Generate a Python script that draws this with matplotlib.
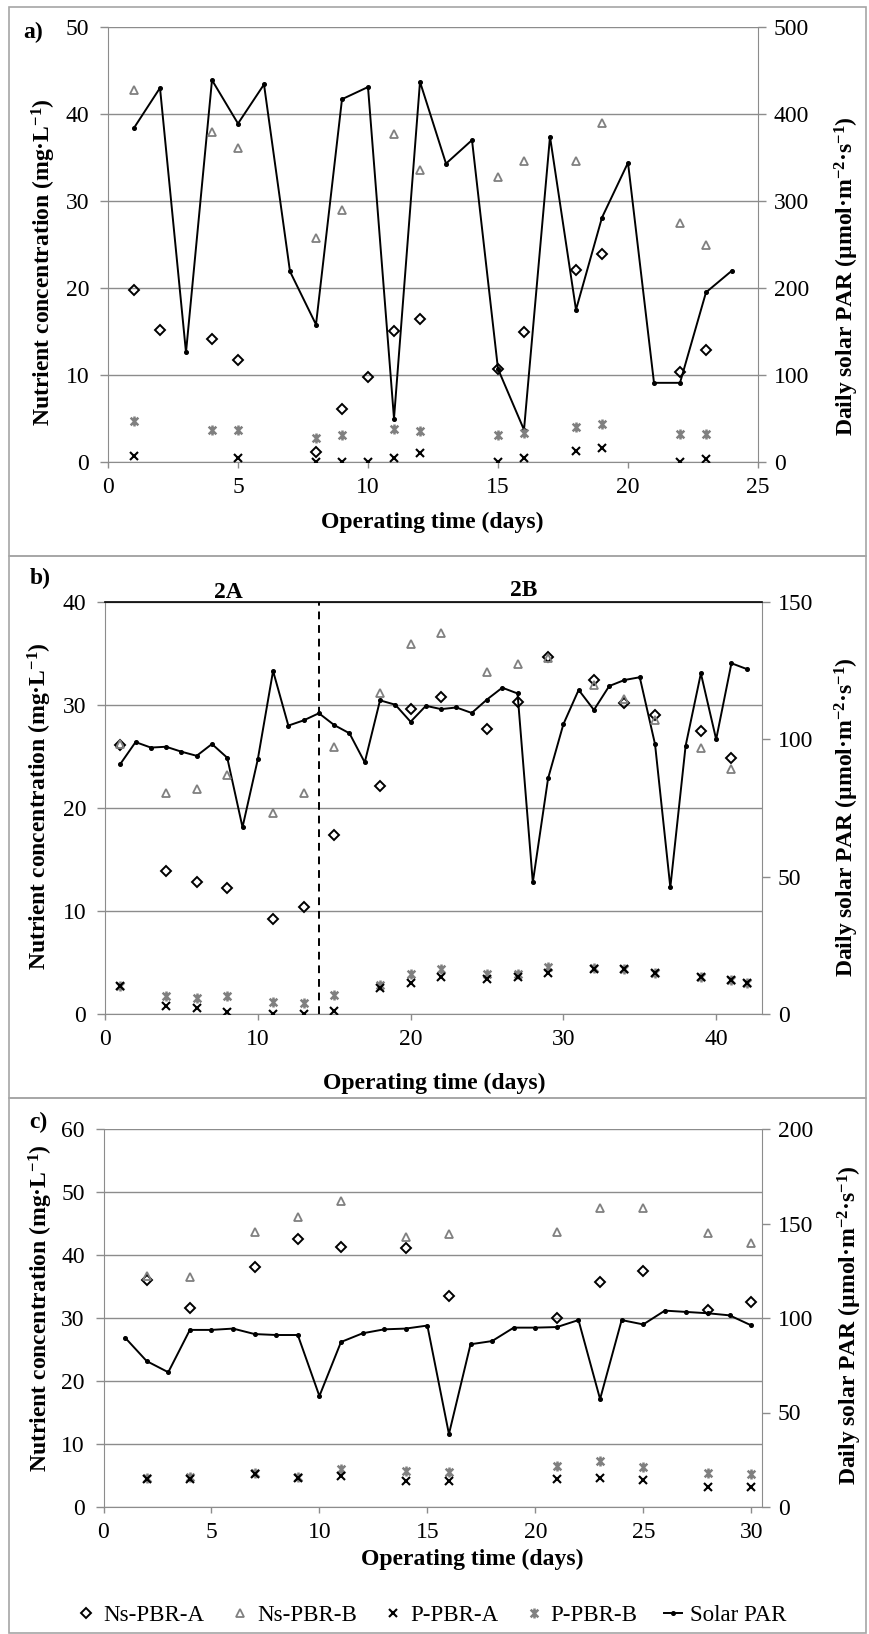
import matplotlib
matplotlib.use("Agg")
import matplotlib.pyplot as plt
from matplotlib.path import Path
from matplotlib.patches import Rectangle

plt.rcParams["font.family"] = ["Liberation Serif", "DejaVu Serif"]
plt.rcParams["mathtext.fontset"] = "custom"
plt.rcParams["mathtext.rm"] = "Liberation Serif"
plt.rcParams["mathtext.bf"] = "Liberation Serif:bold"
plt.rcParams["mathtext.it"] = "Liberation Serif:italic"

# ---------------- data ----------------
# a) first run
a_par_days = list(range(1, 25))
a_par = [384, 430, 126, 439, 389, 434, 219, 158, 417, 431, 50, 437,
         343, 370, 107, 37, 374, 175, 281, 344, 91, 91, 195, 220]
a_nsa_days = [1, 2, 4, 5, 8, 9, 10, 11, 12, 15, 16, 18, 19, 22, 23]
a_nsa = [19.8, 15.2, 14.1, 11.7, 1.2, 6.1, 9.8, 15.1, 16.4, 10.7, 14.9, 22.1, 23.9, 10.3, 12.9]
a_nsb_days = [1, 4, 5, 8, 9, 11, 12, 15, 16, 18, 19, 22, 23]
a_nsb = [42.8, 37.9, 36.1, 25.8, 29.0, 37.7, 33.6, 32.8, 34.6, 34.6, 39.0, 27.5, 24.9]
a_pa_days = [1, 5, 8, 9, 10, 11, 12, 15, 16, 18, 19, 22, 23]
a_pa = [0.7, 0.5, 0.0, 0.0, 0.0, 0.5, 1.0, 0.0, 0.5, 1.3, 1.65, 0.0, 0.3]
a_pb_days = [1, 4, 5, 8, 9, 11, 12, 15, 16, 18, 19, 22, 23]
a_pb = [4.7, 3.7, 3.7, 2.8, 3.1, 3.8, 3.6, 3.1, 3.3, 4.0, 4.4, 3.2, 3.2]

# b) second run (phases 2A / 2B)
b_par_days = list(range(1, 43))
b_par = [91, 99, 97, 97.3, 95.5, 94, 98.3, 93.3, 68, 92.7, 124.9, 105, 106.9, 109.5,
         105.2, 102.2, 91.6, 114.2, 112.6, 106.4, 112.2, 111, 111.6, 109.6, 114.5, 118.8,
         116.7, 47.9, 85.8, 105.5, 118, 110.7, 119.4, 121.6, 122.6, 98.2, 46.1, 97.6,
         124, 100, 127.7, 125.6]
b_ns_days = [1, 4, 6, 8, 11, 13, 15, 18, 20, 22, 25, 27, 29, 32, 34, 36, 39, 41]
b_nsa = [26.1, 13.9, 12.8, 12.2, 9.2, 10.4, 17.4, 22.1, 29.6, 30.8, 27.7, 30.3, 34.7,
         32.4, 30.2, 29.0, 27.5, 24.9]
b_nsb = [26.2, 21.5, 21.8, 23.2, 19.5, 21.5, 25.9, 31.2, 35.9, 37.0, 33.2, 34.0, 34.6,
         31.9, 30.6, 28.5, 25.8, 23.8]
b_p_days = [1, 4, 6, 8, 11, 13, 15, 18, 20, 22, 25, 27, 29, 32, 34, 36, 39, 41, 42]
b_pa = [2.7, 0.8, 0.55, 0.2, 0.0, 0.0, 0.3, 2.5, 3.0, 3.55, 3.35, 3.6, 4.0, 4.4, 4.4,
        4.0, 3.6, 3.3, 3.0]
b_pb = [2.7, 1.7, 1.6, 1.7, 1.2, 1.1, 1.8, 2.8, 3.85, 4.4, 3.85, 3.9, 4.6, 4.45, 4.4,
        3.95, 3.6, 3.3, 3.0]
b_phase_change = 14
b_phase_labels = ["2A", "2B"]

# c) third run
c_par_days = list(range(1, 31))
c_par = [89.6, 77.2, 71.3, 93.7, 93.7, 94.4, 91.5, 91.0, 91.0, 58.7, 87.3, 91.9, 94.0,
         94.4, 96.0, 38.6, 86.1, 87.8, 94.9, 94.9, 95.2, 98.9, 57.1, 98.9, 96.6, 103.9,
         103.2, 102.5, 101.4, 96.1]
c_days = [2, 4, 7, 9, 11, 14, 16, 21, 23, 25, 28, 30]
c_nsa = [36.1, 31.6, 38.1, 42.6, 41.2, 41.1, 33.5, 30.0, 35.7, 37.4, 31.2, 32.6]
c_nsb = [36.7, 36.5, 43.7, 46.0, 48.6, 42.9, 43.4, 43.7, 47.5, 47.5, 43.5, 41.9]
c_pa = [4.4, 4.5, 5.3, 4.6, 5.0, 4.2, 4.2, 4.5, 4.6, 4.3, 3.2, 3.1]
c_pb = [4.6, 4.7, 5.4, 4.7, 6.1, 5.7, 5.6, 6.5, 7.3, 6.3, 5.4, 5.2]

series_names = ["Ns-PBR-A", "Ns-PBR-B", "P-PBR-A", "P-PBR-B", "Solar PAR"]

# ---------------- figure ----------------
W, H, DPI = 869, 1634, 100
fig = plt.figure(figsize=(W / DPI, H / DPI), dpi=DPI)
fig.patch.set_facecolor("white")


def fx(px):
    return px / W


def fy(py):
    return 1 - py / H


GRID = "#8c8c8c"
GRAY = "#808080"
FS_TICK = 17
FS_LAB = 17

# asterisk-like marker: a cross with a vertical bar through it
star = Path([(-1, -1), (1, 1), (-1, 1), (1, -1), (0, -1.3), (0, 1.3)],
            [Path.MOVETO, Path.LINETO] * 3)

ylab_left = "Nutrient concentration (mg·L$^{\\mathbf{-1}}$)"
ylab_right = "Daily solar PAR (µmol·m$^{\\mathbf{-2}}$·s$^{\\mathbf{-1}}$)"
xlab = "Operating time (days)"


def panel(box, xlim, xticks, ylim, yticks, y2lim, y2ticks, par_days, par,
          nsa_days, nsa, nsb_days, nsb, pa_days, pa, pb_days, pb, top_black=False):
    l, t, r, b = box
    ax = fig.add_axes([fx(l), fy(b), (r - l) / W, (b - t) / H])
    ax2 = ax.twinx()
    ax.set_zorder(ax2.get_zorder() + 1)
    ax.patch.set_visible(False)

    ax.set_xlim(*xlim)
    ax.set_xticks(xticks)
    ax.set_ylim(*ylim)
    ax.set_yticks(yticks)
    ax2.set_ylim(*y2lim)
    ax2.set_yticks(y2ticks)

    ax.yaxis.grid(True, color=GRID, lw=1.0)
    ax.set_axisbelow(True)

    for a in (ax, ax2):
        for s in a.spines.values():
            s.set_visible(False)
    ax.spines["left"].set_visible(True)
    ax.spines["left"].set_color(GRID)
    ax.spines["bottom"].set_visible(True)
    ax.spines["bottom"].set_color(GRID)
    ax2.spines["right"].set_visible(True)
    ax2.spines["right"].set_color(GRID)
    if top_black:
        ax.spines["top"].set_visible(True)
        ax.spines["top"].set_color("black")
        ax.spines["top"].set_linewidth(1.2)

    ax.tick_params(axis="x", direction="out", length=4, width=1, color=GRID,
                   labelsize=FS_TICK, pad=7)
    ax.tick_params(axis="y", direction="out", length=5.5, width=1, color=GRID,
                   labelsize=FS_TICK, pad=8)
    ax2.tick_params(axis="y", direction="out", length=5.5, width=1, color=GRID,
                    labelsize=FS_TICK, pad=6)

    # solar PAR uses the right-hand scale but is drawn in the front axes
    h_par, = ax.plot(par_days, par, color="black", lw=1.4, marker="o", ms=2.6,
                     zorder=3, transform=ax2.transData)
    h_nsa, = ax.plot(nsa_days, nsa, ls="none", marker="D", ms=5.6, mfc="none",
                     mec="black", mew=1.4, zorder=4)
    h_nsb, = ax.plot(nsb_days, nsb, ls="none", marker="^", ms=6.4, mfc="none",
                     mec=GRAY, mew=1.3, zorder=4)
    h_pb, = ax.plot(pb_days, pb, ls="none", marker=star, ms=7.2, mfc="none",
                    mec=GRAY, mew=1.8, zorder=4)
    h_pa, = ax.plot(pa_days, pa, ls="none", marker="x", ms=5.8, mec="black",
                    mew=1.5, zorder=5)
    return ax, ax2, [h_nsa, h_nsb, h_pa, h_pb, h_par]


def labels(ylx, yly, yrx, yry, xlx, xly, tag, tagx, tagy):
    fig.text(fx(ylx), fy(yly), ylab_left, rotation=90, ha="center", va="center",
             fontsize=FS_LAB, fontweight="bold")
    fig.text(fx(yrx), fy(yry), ylab_right, rotation=90, ha="center", va="center",
             fontsize=FS_LAB, fontweight="bold")
    fig.text(fx(xlx), fy(xly), xlab, ha="center", va="center",
             fontsize=FS_LAB, fontweight="bold")
    fig.text(fx(tagx), fy(tagy), tag, ha="center", va="center",
             fontsize=FS_LAB, fontweight="bold")


# panel frames
for top, bot in [(7, 556), (556, 1098), (1098, 1633)]:
    fig.add_artist(Rectangle((fx(9), fy(bot)), (866 - 9) / W, (bot - top) / H,
                             transform=fig.transFigure, fill=False,
                             edgecolor="#a6a6a6", lw=1.2))

# a)
axa, axa2, _ = panel((108, 27, 758, 462), (0, 25), range(0, 26, 5), (0, 50),
                     range(0, 51, 10), (0, 500), range(0, 501, 100),
                     a_par_days, a_par, a_nsa_days, a_nsa, a_nsb_days, a_nsb,
                     a_pa_days, a_pa, a_pb_days, a_pb)
labels(44, 262, 847, 276, 432, 522, "a)", 33, 32)

# b)
axb, axb2, _ = panel((105, 602, 762, 1014), (0, 43), range(0, 41, 10), (0, 40),
                     range(0, 41, 10), (0, 150), range(0, 151, 50),
                     b_par_days, b_par, b_ns_days, b_nsa, b_ns_days, b_nsb,
                     b_p_days, b_pa, b_p_days, b_pb, top_black=True)
axb.axvline(b_phase_change, color="black", lw=1.4, ls=(0, (4, 3)), zorder=2)
labels(40, 806, 847, 817, 434, 1083, "b)", 40, 578)
fig.text(fx(228), fy(592), b_phase_labels[0], ha="center", va="center",
         fontsize=FS_LAB, fontweight="bold")
fig.text(fx(524), fy(590), b_phase_labels[1], ha="center", va="center",
         fontsize=FS_LAB, fontweight="bold")

# c)
axc, axc2, handles = panel((103.5, 1129, 762, 1507), (0, 30.5), range(0, 31, 5),
                           (0, 60), range(0, 61, 10), (0, 200), range(0, 201, 50),
                           c_par_days, c_par, c_days, c_nsa, c_days, c_nsb,
                           c_days, c_pa, c_days, c_pb)
labels(41, 1308, 850, 1325, 472, 1559, "c)", 38, 1122)

fig.legend(handles, series_names, loc="center", bbox_to_anchor=(fx(432), fy(1615)),
           ncol=5, frameon=False, fontsize=16.5, handlelength=0.8,
           handletextpad=0.35, columnspacing=1.15, borderpad=0, borderaxespad=0)

fig.savefig("out.png", dpi=DPI)
